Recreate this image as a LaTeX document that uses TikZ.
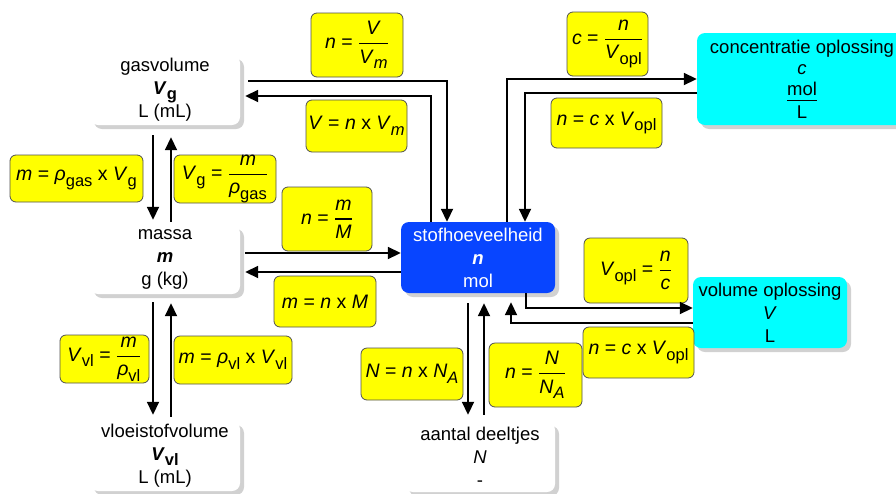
\documentclass[tikz,border=0pt]{standalone}
\usepackage{amsmath}
\usepackage{fontspec}
\setmainfont{Liberation Sans}
\usetikzlibrary{positioning,arrows.meta,shadows}
\definecolor{nodeblue}{HTML}{0845FF}
\definecolor{formyellow}{HTML}{FFFF00}
\definecolor{solcyan}{HTML}{00FFFF}
\definecolor{bordergray}{HTML}{505050}
\newcommand{\lo}[1]{\raisebox{-0.28em}{\fontsize{16.5}{16.5}\selectfont #1}}
\newcommand{\fr}[2]{$\genfrac{}{}{1.2pt}{0}{\text{#1}}{\text{#2}}$}

\begin{document}
\begin{tikzpicture}[x=1pt, y=-1pt,
  every node/.style={font=\fontsize{18.5}{23}\selectfont},
  qty/.style={rectangle, rounded corners=8pt, fill=white, align=center,
              inner sep=0pt,
              drop shadow={shadow xshift=4pt, shadow yshift=-4pt,
                           fill=black!60, opacity=0.3}},
  form/.style={rectangle, rounded corners=6pt, draw=bordergray,
               fill=formyellow, line width=0.8pt, align=center, inner sep=0pt,
               font=\fontsize{19.5}{23}\selectfont},
  arr/.style={-{Triangle[length=13pt,width=12pt]}, line width=1.8pt}
]
  \useasboundingbox (0,0) rectangle (896,493);

  % quantities
  \node[qty, minimum width=150pt, minimum height=70pt] (gas)
    at (165,90) {gasvolume\\ \textbf{\textit{V}\lo{g}}\\ L (mL)};
  \node[qty, minimum width=150pt, minimum height=69pt] (massa)
    at (165,259.5) {massa\\ \textbf{\textit{m}}\\ g (kg)};
  \node[qty, minimum width=150pt, minimum height=70pt] (vloei)
    at (165,456) {vloeistofvolume\\ \textbf{\textit{V}\lo{vl}}\\ L (mL)};
  \node[qty, fill=nodeblue, text=white, minimum width=154pt,
        minimum height=71pt] (stof)
    at (478,257.5) {stofhoeveelheid\\ \textbf{\textit{n}}\\ mol};
  \node[qty, minimum width=150pt, minimum height=70pt] (aantal)
    at (480,457) {aantal deeltjes\\ \textit{N}\\ -};
  \node[qty, fill=solcyan, minimum width=210pt, minimum height=92pt] (conc)
    at (802,79) {concentratie oplossing\\[-2pt] \textit{c}\\[-2pt]
      \underline{mol\rule[-3pt]{0pt}{0pt}}\\[0pt] L};
  \node[qty, fill=solcyan, minimum width=154pt, minimum height=71pt] (volopl)
    at (770,312.5) {volume oplossing\\ \textit{V}\\ L};

  % formulas
  \node[form, minimum width=92pt, minimum height=64pt] (nVVm)
    at (357,45) {\textit{n} = \fr{\textit{V}}{\textit{V}\lo{\textit{m}}}};
  \node[form, minimum width=101pt, minimum height=52pt] (VnVm)
    at (356.5,126) {\textit{V} = \textit{n} x \textit{V}\lo{\textit{m}}};
  \node[form, minimum width=90pt, minimum height=64pt] (nmM)
    at (327,219) {\textit{n} = \fr{\textit{m}}{\textit{M}}};
  \node[form, minimum width=102pt, minimum height=51pt] (mnM)
    at (325,301.5) {\textit{m} = \textit{n} x \textit{M}};
  \node[form, minimum width=81pt, minimum height=64pt] (cnV)
    at (607.5,44) {\textit{c} = \fr{\textit{n}}{\textit{V}\lo{opl}}};
  \node[form, minimum width=111pt, minimum height=50pt] (ncVa)
    at (606.5,123) {\textit{n} = \textit{c} x \textit{V}\lo{opl}};
  \node[form, minimum width=133pt, minimum height=47pt] (mgas)
    at (76.5,178.5) {\textit{m} = \textit{ρ}\lo{gas} x \textit{V}\lo{g}};
  \node[form, minimum width=102pt, minimum height=48pt] (Vgas)
    at (225,179) {\textit{V}\lo{g} = \fr{\textit{m}}{\textit{ρ}\lo{gas}}};
  \node[form, minimum width=89pt, minimum height=48pt] (Vvl)
    at (104.5,359) {\textit{V}\lo{vl} = \fr{\textit{m}}{\textit{ρ}\lo{vl}}};
  \node[form, minimum width=118pt, minimum height=48pt] (mvl)
    at (233,360) {\textit{m} = \textit{ρ}\lo{vl} x \textit{V}\lo{vl}};
  \node[form, minimum width=102pt, minimum height=52pt] (NnNA)
    at (412,374) {\textit{N} = \textit{n} x \textit{N}\lo{\textit{A}}};
  \node[form, minimum width=93pt, minimum height=64pt] (nNNA)
    at (535.5,375) {\textit{n} = \fr{\textit{N}}{\textit{N}\lo{\textit{A}}}};
  \node[form, minimum width=104pt, minimum height=65pt] (Vopl)
    at (636,270.5) {\textit{V}\lo{opl} = \fr{\textit{n}}{\textit{c}}};
  \node[form, minimum width=111pt, minimum height=51pt] (ncVb)
    at (638.5,352.5) {\textit{n} = \textit{c} x \textit{V}\lo{opl}};

  % connectors
  \draw[arr, shorten <=8pt] (gas.east |- 0,81) -| (stof.north -| 447,0);
  \draw[arr, shorten >=5pt] (stof.north -| 431,0) |- (gas.east |- 0,96);
  \draw[arr, shorten <=10pt, shorten >=5pt] (gas.south -| 153,0) -- (massa.north -| 153,0);
  \draw[arr, shorten <=3pt, shorten >=12pt] (massa.north -| 171,0) -- (gas.south -| 171,0);
  \draw[arr, shorten <=5pt] (massa.east |- 0,253) -- (stof.west |- 0,253);
  \draw[arr, shorten >=5pt] (stof.west |- 0,272) -- (massa.east |- 0,272);
  \draw[arr, shorten <=8pt, shorten >=6pt] (massa.south -| 153,0) -- (vloei.north -| 153,0);
  \draw[arr, shorten <=4pt, shorten >=9pt] (vloei.north -| 171,0) -- (massa.south -| 171,0);
  \draw[arr, shorten <=10pt, shorten >=7pt] (stof.south -| 468,0) -- (aantal.north -| 468,0);
  \draw[arr, shorten <=7pt, shorten >=10pt] (aantal.north -| 484,0) -- (stof.south -| 484,0);
  \draw[arr] (stof.north -| 507,0) |- (conc.west |- 0,79);
  \draw[arr] (conc.west |- 0,93) -| (stof.north -| 525,0);
  \draw[arr] (stof.south -| 526,0) |- (volopl.west |- 0,308);
  \draw[arr, shorten >=9pt] (volopl.west |- 0,323) -| (stof.south -| 511,0);
\end{tikzpicture}
\end{document}
